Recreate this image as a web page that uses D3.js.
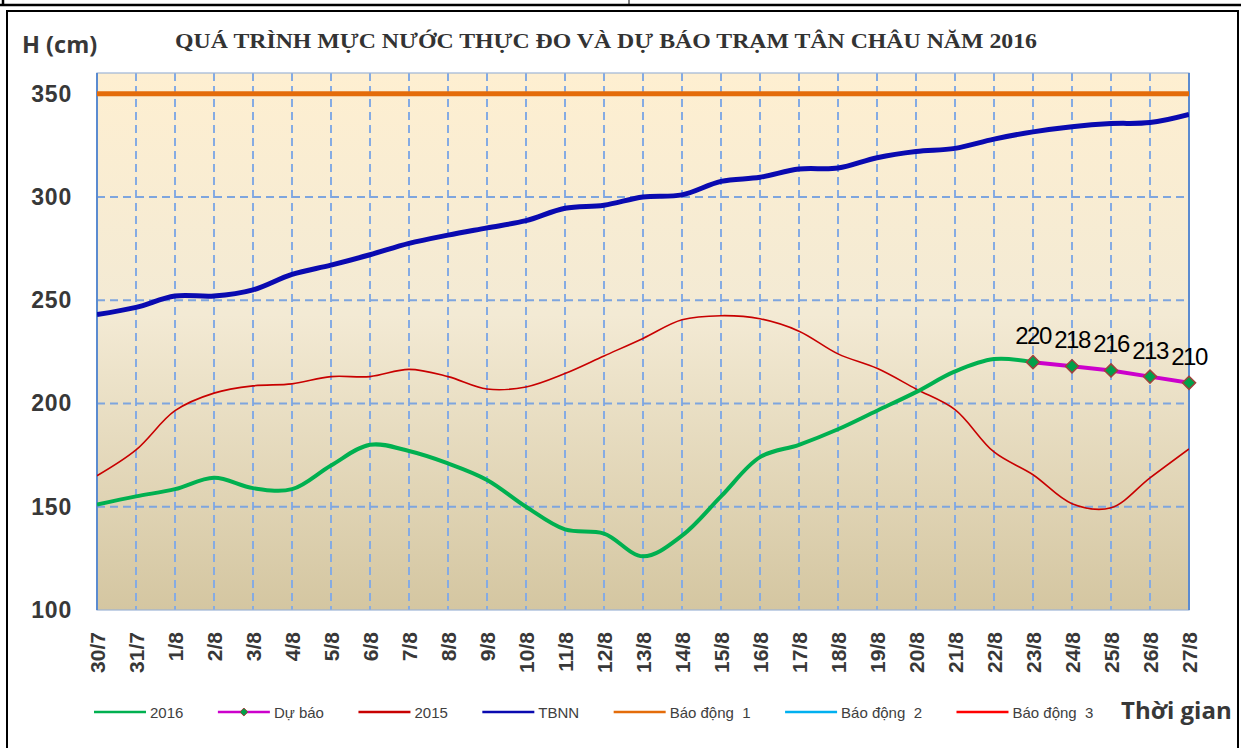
<!DOCTYPE html>
<html>
<head>
<meta charset="utf-8">
<script src="https://cdn.jsdelivr.net/npm/d3@7"></script>
<style>
  body { margin: 0; background: #fff; }
  svg { display: block; }
</style>
</head>
<body>
<div id="chart"></div>
<script>
// dates on the x axis
const dates = ["30/7","31/7","1/8","2/8","3/8","4/8","5/8","6/8","7/8","8/8","9/8","10/8","11/8","12/8",
  "13/8","14/8","15/8","16/8","17/8","18/8","19/8","20/8","21/8","22/8","23/8","24/8","25/8","26/8","27/8"];

// measured water level 2016 (cm), 30/7 .. 23/8
const h2016 = [151,155,158.5,164,159,158.5,170,180,177,171,163,150,139,137,126,136,155,174,180,187.5,196.5,205.5,215.5,221.5,220];
// forecast 23/8 .. 27/8
const forecastDates = ["23/8","24/8","25/8","26/8","27/8"];
const duBao = [220,218,216,213,210];
// same period 2015
const h2015 = [165,177.5,196.5,205,208.5,209.5,213,213,216.5,213,207,208,214.5,223,231.5,240.5,242.5,241,235,224,217,207,197,176.5,165.5,151.5,149.5,164,178];
// long term average (TBNN)
const tbnn = [243,246.5,252,252,255,262.5,267,272,277.5,281.5,285,288.5,294.5,296,300,301,307.5,309.5,313.5,314,319,322,323.5,328,331.5,334,335.5,336,340];
// alarm levels
const baoDong1 = 350, baoDong2 = 400, baoDong3 = 450;
const yTicks = [100,150,200,250,300,350];

const W = 1241, H = 748;
const plot = {left: 97, right: 1189, top: 73, bottom: 610};

const svg = d3.select("#chart").append("svg")
  .attr("width", W)
  .attr("height", H)
  .style("background", "#fff");

// outer frame / table lines
svg.append("line").attr("x1", 0).attr("x2", W).attr("y1", 5).attr("y2", 5)
  .attr("stroke", "#000").attr("stroke-width", 2.5);
svg.append("line").attr("x1", 3).attr("x2", 3).attr("y1", 0).attr("y2", 6)
  .attr("stroke", "#000").attr("stroke-width", 2.5);
svg.append("line").attr("x1", 629).attr("x2", 629).attr("y1", 0).attr("y2", 5)
  .attr("stroke", "#000").attr("stroke-width", 1);
svg.append("rect")
  .attr("x", 7).attr("y", 11)
  .attr("width", 1231).attr("height", 745)
  .attr("fill", "none")
  .attr("stroke", "#000")
  .attr("stroke-width", 2);

const x = d3.scalePoint().domain(dates).range([plot.left, plot.right]);
const y = d3.scaleLinear().domain([100, 360]).range([plot.bottom, plot.top]);

// plot background gradient
const defs = svg.append("defs");
const grad = defs.append("linearGradient")
  .attr("id", "bg").attr("x1", 0).attr("x2", 0).attr("y1", 0).attr("y2", 1);
grad.append("stop").attr("offset", "0%").attr("stop-color", "#FEEFD1");
grad.append("stop").attr("offset", "45%").attr("stop-color", "#F3EAD4");
grad.append("stop").attr("offset", "100%").attr("stop-color", "#D4C6A1");

defs.append("clipPath").attr("id", "clip")
  .append("rect")
  .attr("x", plot.left).attr("y", plot.top)
  .attr("width", plot.right - plot.left).attr("height", plot.bottom - plot.top);

svg.append("rect")
  .attr("x", plot.left).attr("y", plot.top)
  .attr("width", plot.right - plot.left).attr("height", plot.bottom - plot.top)
  .attr("fill", "url(#bg)");

// grid lines
const grid = svg.append("g").attr("class", "grid");
grid.selectAll("line.v")
  .data(dates.slice(1, -1))
  .enter().append("line")
  .attr("class", "v")
  .attr("x1", d => x(d)).attr("x2", d => x(d))
  .attr("y1", plot.top).attr("y2", plot.bottom)
  .attr("stroke", "#85ABE3")
  .attr("stroke-width", 2)
  .attr("stroke-dasharray", "8,5");
grid.selectAll("line.h")
  .data(yTicks.slice(1))
  .enter().append("line")
  .attr("class", "h")
  .attr("x1", plot.left).attr("x2", plot.right)
  .attr("y1", d => y(d)).attr("y2", d => y(d))
  .attr("stroke", "#7EA5DE")
  .attr("stroke-width", 2)
  .attr("stroke-dasharray", "8,5");

// plot border
svg.append("rect")
  .attr("x", plot.left).attr("y", plot.top)
  .attr("width", plot.right - plot.left).attr("height", plot.bottom - plot.top)
  .attr("fill", "none")
  .attr("stroke", "#9DB5D6")
  .attr("stroke-width", 1.2);
svg.append("line")
  .attr("x1", plot.left).attr("x2", plot.left).attr("y1", plot.top).attr("y2", plot.bottom)
  .attr("stroke", "#5B8BD0").attr("stroke-width", 2);
svg.append("line")
  .attr("x1", plot.right).attr("x2", plot.right).attr("y1", plot.top).attr("y2", plot.bottom)
  .attr("stroke", "#5B8BD0").attr("stroke-width", 2);

// series
const lines = svg.append("g").attr("clip-path", "url(#clip)");
const smooth = d3.line()
  .x((d, i) => x(dates[i]))
  .y(d => y(d))
  .curve(d3.curveCatmullRom.alpha(0.5));

// alarm levels
[[baoDong1, "#E46C0A", 5], [baoDong2, "#00B0F0", 3], [baoDong3, "#FF0000", 3]].forEach(([v, c, w]) => {
  lines.append("line")
    .attr("x1", plot.left).attr("x2", plot.right)
    .attr("y1", y(v)).attr("y2", y(v))
    .attr("stroke", c).attr("stroke-width", w);
});

lines.append("path")
  .datum(tbnn)
  .attr("d", smooth)
  .attr("fill", "none")
  .attr("stroke", "#0A0AB0")
  .attr("stroke-width", 5)
  .attr("stroke-linejoin", "round");

lines.append("path")
  .datum(h2015)
  .attr("d", smooth)
  .attr("fill", "none")
  .attr("stroke", "#C80000")
  .attr("stroke-width", 1.6);

lines.append("path")
  .datum(h2016)
  .attr("d", smooth)
  .attr("fill", "none")
  .attr("stroke", "#00B050")
  .attr("stroke-width", 4);

// forecast
const fLine = d3.line()
  .x((d, i) => x(forecastDates[i]))
  .y(d => y(d));
svg.append("path")
  .datum(duBao)
  .attr("d", fLine)
  .attr("fill", "none")
  .attr("stroke", "#CC00CC")
  .attr("stroke-width", 4);

const diamond = d3.symbol().type(d3.symbolDiamond2).size(110);
svg.selectAll("path.mk")
  .data(duBao)
  .enter().append("path")
  .attr("class", "mk")
  .attr("d", diamond)
  .attr("transform", (d, i) => `translate(${x(forecastDates[i])},${y(d)})`)
  .attr("fill", "#00A04A")
  .attr("stroke", "#A0403C")
  .attr("stroke-width", 1.5);

svg.selectAll("text.fc")
  .data(duBao)
  .enter().append("text")
  .attr("class", "fc")
  .attr("x", (d, i) => x(forecastDates[i]))
  .attr("y", d => y(d) - 18)
  .attr("text-anchor", "middle")
  .style("font-family", "'Liberation Sans', Arial, sans-serif")
  .style("font-size", "24px")
  .style("letter-spacing", "-1.5px")
  .attr("fill", "#000")
  .text(d => d);

// axes
const yAxis = svg.append("g")
  .attr("transform", `translate(${plot.left},0)`)
  .call(d3.axisLeft(y).tickValues(yTicks).tickSize(0).tickPadding(25));
yAxis.select(".domain").remove();
yAxis.selectAll("text")
  .style("font-family", "'Liberation Sans', Arial, sans-serif")
  .style("font-size", "23px")
  .style("font-weight", "bold")
  .style("letter-spacing", "0.8px")
  .attr("fill", "#383838");

const xAxis = svg.append("g")
  .attr("transform", `translate(0,${plot.bottom})`)
  .call(d3.axisBottom(x).tickSize(0));
xAxis.select(".domain").remove();
xAxis.selectAll("text")
  .attr("transform", "rotate(-90)")
  .attr("x", -22)
  .attr("y", 0)
  .attr("dy", "0.35em")
  .attr("text-anchor", "end")
  .style("font-family", "'Liberation Sans', Arial, sans-serif")
  .style("font-size", "21px")
  .style("font-weight", "bold")
  .attr("fill", "#383838");

// titles
svg.append("text")
  .attr("x", 22).attr("y", 53)
  .style("font-family", "'Open Sans', sans-serif")
  .style("font-size", "23.5px")
  .style("font-weight", "bold")
  .attr("fill", "#383838")
  .text("H (cm)");

svg.append("text")
  .attr("x", 175).attr("y", 48)
  .attr("textLength", 862)
  .attr("lengthAdjust", "spacingAndGlyphs")
  .style("font-family", "'Liberation Serif', 'Times New Roman', serif")
  .style("font-size", "21px")
  .style("font-weight", "bold")
  .attr("fill", "#333")
  .text("QUÁ TRÌNH MỰC NƯỚC THỰC ĐO VÀ DỰ BÁO TRẠM TÂN CHÂU NĂM 2016");

svg.append("text")
  .attr("x", 1121).attr("y", 719)
  .style("font-family", "'Open Sans', sans-serif")
  .style("font-size", "24px")
  .style("font-weight", "bold")
  .attr("fill", "#383838")
  .text("Thời gian");

// legend
const legendItems = [
  {name: "2016", color: "#00B050", marker: false},
  {name: "Dự báo", color: "#CC00CC", marker: true},
  {name: "2015", color: "#C80000", marker: false},
  {name: "TBNN", color: "#0A0AB0", marker: false},
  {name: "Báo động  1", color: "#E46C0A", marker: false},
  {name: "Báo động  2", color: "#00B0F0", marker: false},
  {name: "Báo động  3", color: "#FF0000", marker: false}
];
const legend = svg.append("g").attr("class", "legend");
let lx = 94;
const ly = 712;
legendItems.forEach(item => {
  const g = legend.append("g").attr("transform", `translate(${lx},${ly})`);
  g.append("line").attr("x1", 0).attr("x2", 52)
    .attr("stroke", item.color).attr("stroke-width", 2.5);
  if (item.marker) {
    g.append("path")
      .attr("d", d3.symbol().type(d3.symbolDiamond2).size(40))
      .attr("transform", "translate(26,0)")
      .attr("fill", "#00A04A")
      .attr("stroke", "#A0403C")
      .attr("stroke-width", 1);
  }
  const t = g.append("text")
    .attr("x", 56).attr("y", 5.5)
    .style("font-family", "'Liberation Sans', Arial, sans-serif")
    .style("font-size", "15px")
    .style("white-space", "pre")
    .attr("xml:space", "preserve")
    .attr("fill", "#404040")
    .text(item.name);
  lx += 56 + t.node().getComputedTextLength() + 34.5;
});
</script>
</body>
</html>
